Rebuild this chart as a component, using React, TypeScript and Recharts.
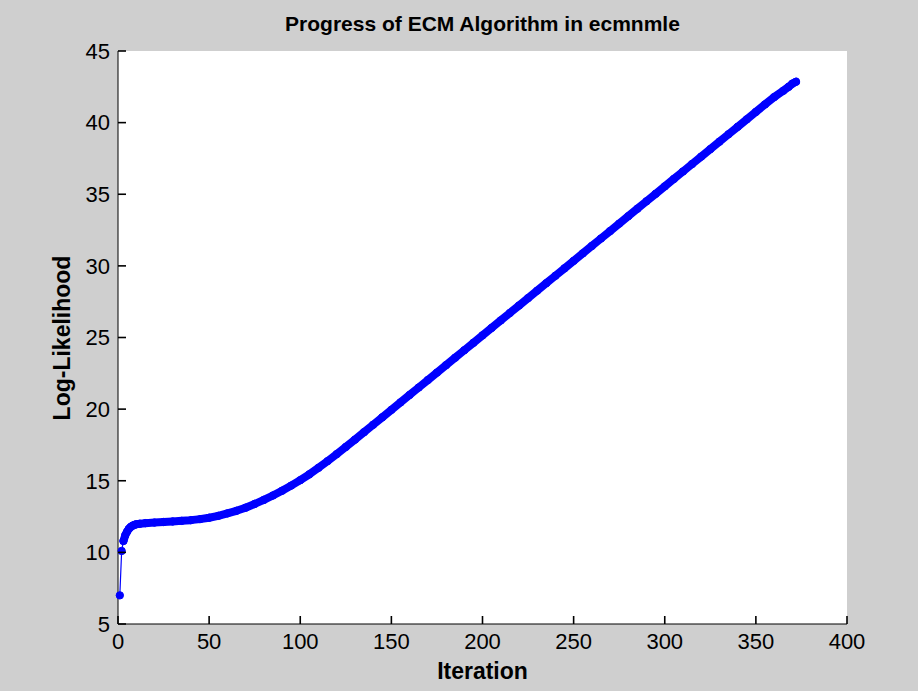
import { LineChart, Line, XAxis, YAxis } from 'recharts';

// Iteration numbers and log-likelihood
const iterations = [
  1, 2, 3, 4, 5, 6, 7, 8, 9, 10, 12, 15, 20, 25, 30, 35, 40, 45, 50, 55, 60, 65, 70, 75, 80, 85, 90, 95,
  100, 105, 110, 115, 120, 125, 130, 135, 140, 145, 150, 155, 160, 165, 170, 175, 180, 185, 190, 195,
  200, 205, 210, 215, 220, 225, 230, 235, 240, 245, 250, 255, 260, 265, 270, 275, 280, 285, 290, 295,
  300, 305, 310, 315, 320, 325, 330, 335, 340, 345, 350, 355, 360, 365, 368, 370, 372,
];

const logLikelihood = [
  7.0, 10.1, 10.8, 11.2, 11.45, 11.65, 11.78, 11.86, 11.92, 11.96, 12.0, 12.04, 12.08, 12.12, 12.16,
  12.2, 12.25, 12.32, 12.42, 12.55, 12.72, 12.9, 13.12, 13.38, 13.66, 13.97, 14.3, 14.66,
  15.04, 15.45, 15.9, 16.37, 16.86, 17.36, 17.87, 18.39, 18.91, 19.43, 19.95, 20.47, 20.99, 21.51,
  22.03, 22.55, 23.07, 23.59, 24.11, 24.63,
  25.15, 25.67, 26.19, 26.71, 27.23, 27.75, 28.27, 28.79, 29.31, 29.83, 30.35, 30.87, 31.39, 31.91,
  32.43, 32.95, 33.47, 33.99, 34.51, 35.03,
  35.55, 36.07, 36.59, 37.11, 37.63, 38.15, 38.67, 39.19, 39.71, 40.23, 40.75, 41.27, 41.78, 42.22,
  42.5, 42.72, 42.85,
];

const xTicks = [0, 50, 100, 150, 200, 250, 300, 350, 400];
const yTicks = [5, 10, 15, 20, 25, 30, 35, 40, 45];

const data = iterations.map((it, i) => ({
  iter: it,
  ll: logLikelihood[i],
  // dense markers merge into a thick band after the first couple of steps
  band: it >= 3 ? logLikelihood[i] : null,
}));

const W = 918;
const H = 691;
const MARGIN = { top: 51, right: 71, left: 58, bottom: 37 };
const Y_AXIS_W = 60;
const X_AXIS_H = 30;

const FONT = "'Liberation Sans Narrow', 'Liberation Sans', Arial, sans-serif";
const BLUE = '#0000ff';
const TICK_LEN = 8;
const TICK_W = 1.6;

// MATLAB style ticks point into the plot box, so each tick draws its own mark
const BottomTick = (props: any) => {
  const { x, y, payload } = props;
  return (
    <g>
      <line x1={x} y1={y - 9} x2={x} y2={y - 9 - TICK_LEN} stroke="#000" strokeWidth={TICK_W} />
      <text x={x} y={y} dy="0.71em" textAnchor="middle" fill="#000" fontSize={22} fontFamily={FONT}>
        {payload.value}
      </text>
    </g>
  );
};

const TopTick = (props: any) => {
  const { x, y } = props;
  return <line x1={x} y1={y} x2={x} y2={y + TICK_LEN} stroke="#000" strokeWidth={TICK_W} />;
};

const LeftTick = (props: any) => {
  const { x, y, payload } = props;
  return (
    <g>
      <line x1={x + 8} y1={y} x2={x + 8 + TICK_LEN} y2={y} stroke="#000" strokeWidth={TICK_W} />
      <text x={x} y={y} dy="0.355em" textAnchor="end" fill="#000" fontSize={22} fontFamily={FONT}>
        {payload.value}
      </text>
    </g>
  );
};

const RightTick = (props: any) => {
  const { x, y } = props;
  return <line x1={x} y1={y} x2={x - TICK_LEN} y2={y} stroke="#000" strokeWidth={TICK_W} />;
};

export default function App() {
  const plotLeft = MARGIN.left + Y_AXIS_W;
  const plotTop = MARGIN.top;
  const plotW = W - plotLeft - MARGIN.right;
  const plotH = H - MARGIN.top - MARGIN.bottom - X_AXIS_H;

  return (
    <div style={{ width: W, height: H, background: '#cfcfcf', position: 'relative' }}>
      <style>{`body{margin:0}`}</style>
      {/* white axes box behind the svg */}
      <div
        style={{
          position: 'absolute', left: plotLeft, top: plotTop, width: plotW, height: plotH,
          background: '#ffffff',
        }}
      />
      <div style={{ position: 'absolute', left: 0, top: 0 }}>
        <LineChart width={W} height={H} data={data} margin={MARGIN}>
          <XAxis
            xAxisId="bottom"
            dataKey="iter"
            type="number"
            domain={[0, 400]}
            ticks={xTicks}
            height={X_AXIS_H}
            tickSize={0}
            tickMargin={9}
            tick={<BottomTick />}
            tickLine={false}
            axisLine={{ stroke: '#000' }}
            interval={0}
          />
          <XAxis
            xAxisId="top"
            orientation="top"
            dataKey="iter"
            type="number"
            domain={[0, 400]}
            ticks={xTicks}
            height={0}
            tickSize={0}
            tickMargin={0}
            tick={<TopTick />}
            tickLine={false}
            axisLine={{ stroke: '#000' }}
            interval={0}
          />
          <YAxis
            yAxisId="left"
            type="number"
            domain={[5, 45]}
            ticks={yTicks}
            width={Y_AXIS_W}
            tickSize={0}
            tickMargin={8}
            tick={<LeftTick />}
            tickLine={false}
            axisLine={{ stroke: '#000' }}
            interval={0}
          />
          <YAxis
            yAxisId="right"
            orientation="right"
            type="number"
            domain={[5, 45]}
            ticks={yTicks}
            width={0}
            tickSize={0}
            tickMargin={0}
            tick={<RightTick />}
            tickLine={false}
            axisLine={{ stroke: '#000' }}
            interval={0}
          />
          <Line
            xAxisId="bottom"
            yAxisId="left"
            dataKey="band"
            stroke={BLUE}
            strokeWidth={8}
            strokeLinejoin="round"
            strokeLinecap="round"
            dot={false}
            activeDot={false}
            isAnimationActive={false}
            type="linear"
          />
          <Line
            xAxisId="bottom"
            yAxisId="left"
            dataKey="ll"
            stroke={BLUE}
            strokeWidth={1.2}
            dot={{ r: 3.7, fill: BLUE, stroke: BLUE, strokeWidth: 1 }}
            activeDot={false}
            isAnimationActive={false}
            type="linear"
          />
        </LineChart>
      </div>
      <div
        style={{
          position: 'absolute', top: 12, left: plotLeft, width: plotW, textAlign: 'center',
          fontFamily: FONT, fontWeight: 'bold', fontSize: 21, color: '#000',
        }}
      >
        Progress of ECM Algorithm in ecmnmle
      </div>
      <div
        style={{
          position: 'absolute', top: 658, left: plotLeft, width: plotW, textAlign: 'center',
          fontFamily: FONT, fontWeight: 'bold', fontSize: 23, color: '#000',
        }}
      >
        Iteration
      </div>
      <div
        style={{
          position: 'absolute', top: plotTop + plotH / 2, left: 62, width: 300, marginLeft: -150,
          marginTop: -14, textAlign: 'center', transform: 'rotate(-90deg)', lineHeight: '28px',
          fontFamily: FONT, fontWeight: 'bold', fontSize: 23, color: '#000',
        }}
      >
        Log-Likelihood
      </div>
    </div>
  );
}
